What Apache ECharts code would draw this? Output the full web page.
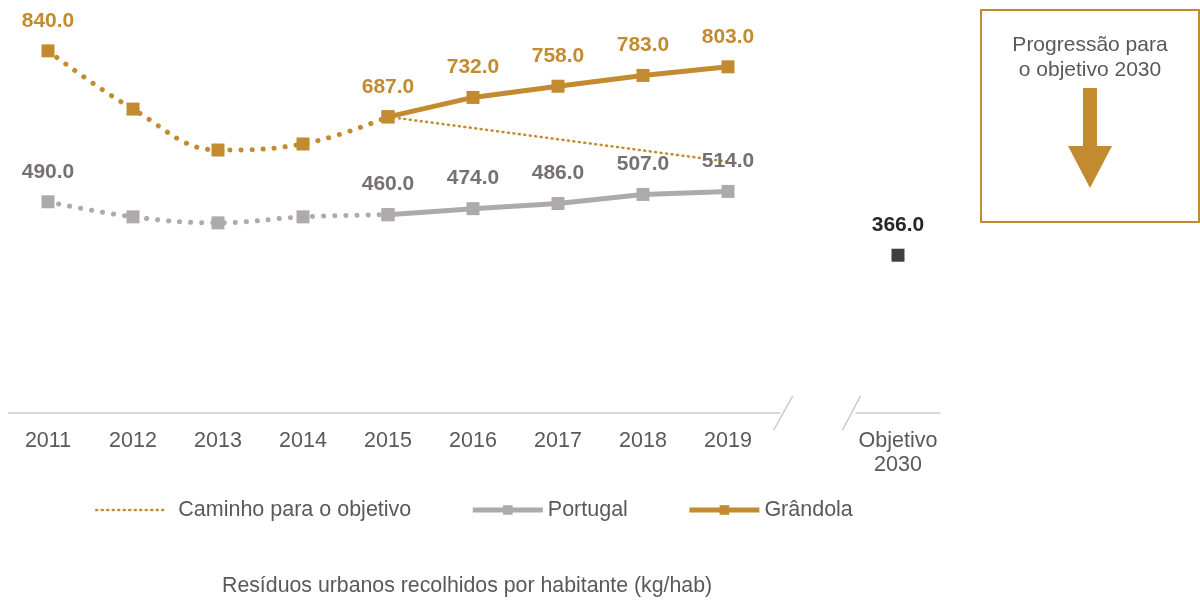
<!DOCTYPE html>
<html>
<head>
<meta charset="utf-8">
<script src="https://cdn.jsdelivr.net/npm/echarts@6/dist/echarts.min.js"></script>
<style>html,body{margin:0;padding:0;background:#fff}#c{width:1200px;height:601px}</style>
</head>
<body>
<div id="c"></div>
<script>
const categories = ['2011','2012','2013','2014','2015','2016','2017','2018','2019','','Objetivo\n2030'];
const grandolaHist = [840, 705, 610, 624, 687, null, null, null, null, null, null];
const grandola = [null, null, null, null, 687, 732, 758, 783, 803, null, null];
const portugalHist = [490, 455, 441, 455, 460, null, null, null, null, null, null];
const portugal = [null, null, null, null, 460, 474, 486, 507, 514, null, null];
const caminho = [null, null, null, null, 687, 661, 635, 609, 583, null, null];
const objetivo = [null, null, null, null, null, null, null, null, null, null, 366];
const titleText = 'Resíduos urbanos recolhidos por habitante (kg/hab)';

const GOLD = '#C38B2F', GREY = '#AEAAAA', GREYTXT = '#767171', TXT = '#595959';
const FONT = '"Liberation Sans", Arial, sans-serif';

const chart = echarts.init(document.getElementById('c'));
function lbl(color) {
  return { show: true, position: 'top', distance: 13, color: color, fontWeight: 'bold', fontSize: 21, fontFamily: FONT,
    formatter: p => (p.value == null ? '' : Number(p.value).toFixed(1)) };
}
function firstOnly(arr, color) {
  return arr.map((v, i) => i === 0 ? { value: v, label: lbl(color) } : v);
}
const option = {
  animation: false,
  textStyle: { fontFamily: FONT },
  title: { text: titleText, left: 217, top: 571, textStyle: { fontSize: 21.3, fontWeight: 'normal', color: TXT, fontFamily: FONT } },
  legend: {
    left: 90, top: 494, itemWidth: 70, itemHeight: 12, itemGap: 59,
    textStyle: { fontSize: 21.5, color: TXT, fontFamily: FONT },
    data: [
      { name: 'Caminho para o objetivo', itemStyle: { opacity: 0 }, textStyle: { padding: [0, 0, 0, 7] },
        lineStyle: { width: 2.5, type: [1, 4.5], cap: 'round', color: GOLD } },
      { name: 'Portugal', lineStyle: { width: 5, color: GREY } },
      { name: 'Grândola', lineStyle: { width: 5, color: GOLD } }
    ]
  },
  grid: { left: 5.5, width: 935, top: 25, bottom: 188 },
  xAxis: {
    type: 'category', data: categories, boundaryGap: true,
    axisLine: { show: false }, axisTick: { show: false },
    axisLabel: { color: TXT, fontSize: 21.5, margin: 16, lineHeight: 24, fontFamily: FONT, interval: 0 }
  },
  yAxis: { type: 'value', min: 0, max: 900, show: false, splitLine: { show: false } },
  series: [
    { name: 'Caminho para o objetivo', type: 'line', data: caminho, symbol: 'none', z: 1,
      lineStyle: { color: GOLD, width: 2.5, type: [1, 4.5], cap: 'round' }, itemStyle: { color: GOLD } },
    { name: 'Portugal hist', type: 'line', data: firstOnly(portugalHist, GREYTXT), smooth: 0.4, symbol: 'rect', symbolSize: 13, z: 2,
      lineStyle: { color: GREY, width: 5, type: [0.1, 11], cap: 'round' }, itemStyle: { color: GREY } },
    { name: 'Portugal', type: 'line', data: portugal, symbol: 'rect', symbolSize: 13, z: 3,
      lineStyle: { color: GREY, width: 5 }, itemStyle: { color: GREY }, label: lbl(GREYTXT) },
    { name: 'Grândola hist', type: 'line', data: firstOnly(grandolaHist, GOLD), smooth: 0.4, symbol: 'rect', symbolSize: 13, z: 2,
      lineStyle: { color: GOLD, width: 5, type: [0.1, 11], cap: 'round' }, itemStyle: { color: GOLD } },
    { name: 'Grândola', type: 'line', data: grandola, symbol: 'rect', symbolSize: 13, z: 4,
      lineStyle: { color: GOLD, width: 5 }, itemStyle: { color: GOLD }, label: lbl(GOLD) },
    { name: 'Objetivo', type: 'line', data: objetivo, symbol: 'rect', symbolSize: 13, z: 4,
      lineStyle: { width: 0 }, itemStyle: { color: '#404040' }, label: lbl('#262626') }
  ]
};
chart.setOption(option);

const y0 = chart.convertToPixel({ yAxisIndex: 0 }, 0);
const x19 = chart.convertToPixel({ xAxisIndex: 0 }, '2019');
const xObj = chart.convertToPixel({ xAxisIndex: 0 }, 'Objetivo\n2030');
const step = xObj - chart.convertToPixel({ xAxisIndex: 0 }, '');
const axisLeft = 5.5 + 2.5, axisRight = 5.5 + 935;
const b1 = x19 + step * 0.62, b2 = xObj - step * 0.5;
const axisStyle = { stroke: '#D9D9D9', lineWidth: 2 };
const slashStyle = { stroke: '#C8C8C8', lineWidth: 1.5 };
chart.setOption({
  graphic: [
    { type: 'line', shape: { x1: axisLeft, y1: y0, x2: b1, y2: y0 }, style: axisStyle, silent: true },
    { type: 'line', shape: { x1: b2, y1: y0, x2: axisRight, y2: y0 }, style: axisStyle, silent: true },
    { type: 'line', shape: { x1: b1 - 7, y1: y0 + 17, x2: b1 + 12, y2: y0 - 17 }, style: slashStyle, silent: true },
    { type: 'line', shape: { x1: b2 - 13, y1: y0 + 17, x2: b2 + 5, y2: y0 - 17 }, style: slashStyle, silent: true },
    { type: 'rect', shape: { x: 981, y: 10, width: 218, height: 212 }, style: { fill: '#fff', stroke: GOLD, lineWidth: 2 }, silent: true },
    { type: 'text', x: 1090, y: 33, style: { text: 'Progressão para\no objetivo 2030', fill: TXT, font: '21px ' + FONT, textAlign: 'center', lineHeight: 25 }, silent: true },
    { type: 'rect', shape: { x: 1083, y: 88, width: 14, height: 60 }, style: { fill: GOLD }, silent: true },
    { type: 'polygon', shape: { points: [[1068, 146], [1112, 146], [1090, 188]] }, style: { fill: GOLD }, silent: true }
  ]
});
</script>
</body>
</html>
